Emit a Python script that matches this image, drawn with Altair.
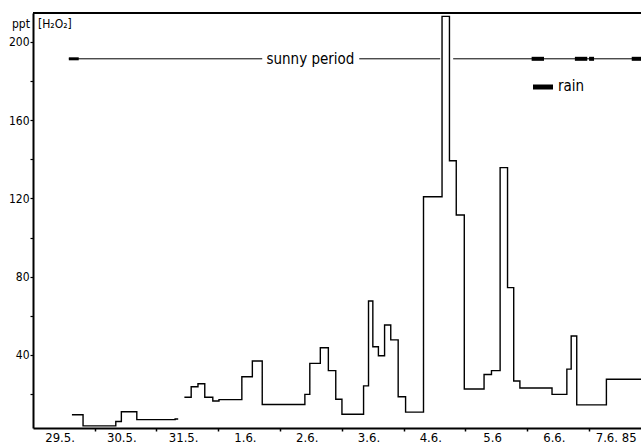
import altair as alt
import pandas as pd

FONT = "DejaVu Sans Condensed, Liberation Sans Narrow, DejaVu Sans, sans-serif"

# x positions are in days: 0 = 29.5., 1 = 30.5., ... 9 = 7.6.85
day_labels = ["29.5.", "30.5.", "31.5.", "1.6.", "2.6.", "3.6.", "4.6.", "5.6", "6.6.", "7.6. 85"]
day_positions = list(range(10))
y_ticks = [20, 40, 60, 80, 100, 120, 140, 160, 180, 200]

# step series (edges: n+1 day positions, values: n levels in ppt)
seg1_edges = [0.20, 0.38, 0.91, 1.00, 1.25, 1.87, 1.92]
seg1_values = [9.5, 3.8, 6.0, 11.0, 7.0, 7.3]

seg2_edges = [2.02, 2.13, 2.24, 2.35, 2.48, 2.58, 2.95, 3.12, 3.28, 3.97,
              4.05, 4.22, 4.35, 4.47, 4.57, 4.92, 5.00, 5.07, 5.16, 5.26,
              5.36, 5.48, 5.60, 5.89, 6.19, 6.31, 6.42, 6.55, 6.87, 6.99,
              7.13, 7.25, 7.35, 7.45, 7.97, 8.21, 8.28, 8.37, 8.85, 9.41]
seg2_values = [18.4, 23.8, 25.3, 18.4, 16.5, 17.2, 28.9, 36.9, 14.7, 19.9,
               35.7, 43.7, 32.0, 17.4, 9.7, 24.2, 67.6, 44.2, 39.6, 55.3,
               47.7, 18.7, 10.8, 120.8, 213.0, 139.2, 111.5, 22.6, 30.0, 32.0,
               135.7, 74.4, 26.7, 23.1, 19.9, 32.8, 49.7, 14.5, 27.6]

# sunny period annotation
sunny_start = [0.15, 4.85, 6.37]
sunny_end = [3.28, 6.16, 9.41]
sunny_level = 191.3
sunny_marker_start = [0.15]
sunny_marker_end = [0.31]
sunny_text_pos = [4.06]

# rain periods
rain_start = [7.64, 8.34, 8.57, 9.26]
rain_end = [7.84, 8.54, 8.65, 9.41]

rows = []
for sid, (edges, vals) in enumerate([(seg1_edges, seg1_values), (seg2_edges, seg2_values)]):
    for i, e in enumerate(edges):
        v = vals[i] if i < len(vals) else vals[-1]
        rows.append({"day": e, "ppt": v, "seg": sid})
steps = pd.DataFrame(rows)

sunny = pd.DataFrame({"s": sunny_start, "e": sunny_end, "lvl": [sunny_level] * len(sunny_start)})
sunny_mark = pd.DataFrame({"s": sunny_marker_start, "e": sunny_marker_end, "lvl": [sunny_level]})
sunny_txt = pd.DataFrame({"x": sunny_text_pos, "lvl": [sunny_level], "t": ["sunny period"]})
rain = pd.DataFrame({"s": rain_start, "e": rain_end, "lvl": [sunny_level] * len(rain_start)})

xscale = alt.Scale(domain=[-0.43, 9.41], nice=False, zero=False)
yscale = alt.Scale(domain=[2.7, 214.7], nice=False, zero=False)

label_arr = "[" + ",".join("'" + l + "'" for l in day_labels) + "]"

xaxis = alt.Axis(values=day_positions, labelExpr=label_arr + "[datum.value]",
                 tickOffset=35, labelOffset=-35, tickSize=3, tickWidth=1.5,
                 domainWidth=2, domainColor="black", tickColor="black",
                 labelColor="black", labelFontSize=13, labelPadding=0,
                 labelFont=FONT, labelFlush=False, labelOverlap=False,
                 grid=False, title=None)
yaxis = alt.Axis(values=y_ticks, labelExpr="datum.value % 40 == 0 ? datum.value : ''",
                 tickSize=3, tickWidth=1.2, domainWidth=2, domainColor="black",
                 tickColor="black", labelColor="black", labelFontSize=12,
                 labelPadding=1, labelFont=FONT, grid=False, title=None)

line = alt.Chart(steps).mark_line(interpolate="step-after", color="black", strokeWidth=1.4).encode(
    x=alt.X("day:Q", scale=xscale, axis=xaxis),
    y=alt.Y("ppt:Q", scale=yscale, axis=yaxis),
    detail="seg:N",
)

sun_line = alt.Chart(sunny).mark_rule(color="black", strokeWidth=1).encode(
    x=alt.X("s:Q", scale=xscale), x2="e:Q", y=alt.Y("lvl:Q", scale=yscale))
sun_start = alt.Chart(sunny_mark).mark_rule(color="black", strokeWidth=3).encode(
    x=alt.X("s:Q", scale=xscale), x2="e:Q", y=alt.Y("lvl:Q", scale=yscale))
sun_text = alt.Chart(sunny_txt).mark_text(font=FONT, fontSize=15, color="black",
                                          baseline="middle", align="center").encode(
    x=alt.X("x:Q", scale=xscale), y=alt.Y("lvl:Q", scale=yscale), text="t:N")
rain_bars = alt.Chart(rain).mark_rule(color="black", strokeWidth=4).encode(
    x=alt.X("s:Q", scale=xscale), x2="e:Q", y=alt.Y("lvl:Q", scale=yscale))

one = alt.Data(values=[{}])
top_border = alt.Chart(one).mark_rule(color="black", strokeWidth=2).encode(
    x=alt.value(0), x2=alt.value(608), y=alt.value(0))
rain_key = alt.Chart(one).mark_rule(color="black", strokeWidth=5).encode(
    x=alt.value(500), x2=alt.value(520), y=alt.value(74))
rain_key_text = alt.Chart(one).mark_text(font=FONT, fontSize=15, color="black",
                                         align="left", baseline="middle").encode(
    x=alt.value(525), y=alt.value(73), text=alt.value("rain"))
ylab1 = alt.Chart(one).mark_text(font=FONT, fontSize=12, color="black",
                                 align="left", baseline="middle").encode(
    x=alt.value(-21), y=alt.value(11), text=alt.value("ppt"))
ylab2 = alt.Chart(one).mark_text(font=FONT, fontSize=12, color="black",
                                 align="left", baseline="middle").encode(
    x=alt.value(5), y=alt.value(11), text=alt.value("[H₂O₂]"))

chart = alt.layer(line, sun_line, sun_start, sun_text, rain_bars, top_border,
                  rain_key, rain_key_text, ylab1, ylab2).properties(
    width=608, height=415,
    padding={"left": 33, "top": 13, "right": 0, "bottom": 15},
    autosize="none",
    background="white",
).configure_view(stroke=None)

chart.save("out.html", embed_options={"renderer": "svg", "actions": False})
